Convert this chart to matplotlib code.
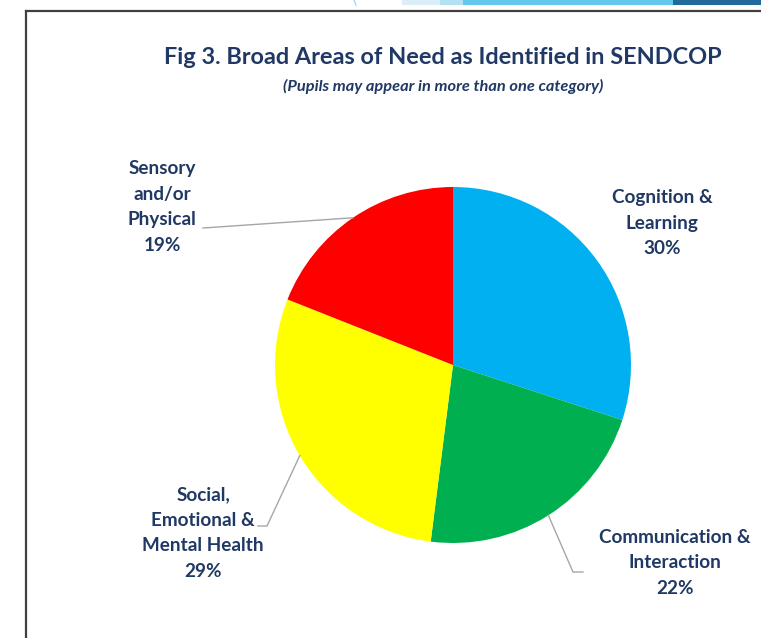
import numpy as np
import matplotlib.pyplot as plt
from matplotlib.patches import Rectangle

plt.rcParams['font.family'] = ['Lato', 'DejaVu Sans']

categories = ['Cognition &\nLearning', 'Communication &\nInteraction',
              'Social,\nEmotional &\nMental Health', 'Sensory\nand/or\nPhysical']
shares = [30, 22, 29, 19]
colors = ['#00b0f0', '#00b050', '#ffff00', '#ff0000']

W, H = 761, 638
navy = '#1f3864'

fig = plt.figure(figsize=(W / 100, H / 100), dpi=100)
ax = fig.add_axes([0, 0, 1, 1])

# top banner strip and frame
for x0, x1, c in [(402, 440, '#dbeef8'), (440, 463, '#b3e2f4'),
                  (463, 673, '#63c9ec'), (673, 761, '#236a9c')]:
    fig.add_artist(Rectangle((x0 / W, 1 - 5 / H), (x1 - x0) / W, 5 / H,
                             transform=fig.transFigure, color=c, lw=0))
ax.plot([354, 356], [H, H - 5], color='#9fd9f0', lw=1)
ax.plot([26, W], [H - 11, H - 11], color='#404040', lw=1.6)
ax.plot([26, 26], [0, H - 11], color='#404040', lw=1.6)

cx, cy, r = 453, H - 365, 178
wedges, _ = ax.pie(shares, colors=colors, startangle=90, counterclock=False,
                   center=(cx, cy), radius=r, frame=True,
                   wedgeprops=dict(linewidth=0))
ax.set_xlim(0, W)
ax.set_ylim(0, H)
ax.set_aspect('equal')
ax.axis('off')

ax.text(443, H - 57, 'Fig 3. Broad Areas of Need as Identified in SENDCOP',
        ha='center', va='center', fontsize=16.9, fontweight='bold', color=navy)
ax.text(443, H - 86, '(Pupils may appear in more than one category)',
        ha='center', va='center', fontsize=11.8, fontweight='bold',
        style='italic', color=navy)

# label positions (centre of text block) and leader elbows
label_pos = [(662, H - 223), (675, H - 563), (203, H - 533), (162, H - 207)]
elbows = [None, [(573, H - 572), (583, H - 572)],
          [(267, H - 526), (258, H - 526)], [(203, H - 228)]]

for w, cat, s, (lx, ly), el in zip(wedges, categories, shares, label_pos, elbows):
    ax.text(lx, ly, f'{cat}\n{s}%', ha='center', va='center', fontsize=13.6,
            fontweight='bold', color=navy, linespacing=1.6)
    if el is None:
        continue
    ang = np.deg2rad((w.theta1 + w.theta2) / 2)
    pts = [(cx + r * np.cos(ang), cy + r * np.sin(ang))] + el
    xs, ys = zip(*pts)
    ax.plot(xs, ys, color='#a6a6a6', lw=1)

fig.savefig('out.png', dpi=100)
